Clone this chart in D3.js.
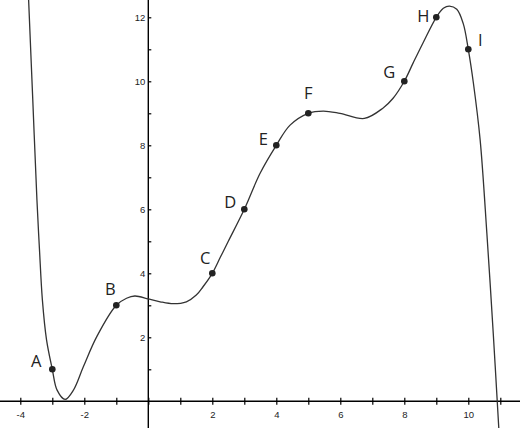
<!DOCTYPE html>
<html>
<head>
<meta charset="utf-8">
<script src="https://cdn.jsdelivr.net/npm/d3@7"></script>
<style>
  body { margin: 0; background: #fff; }
  svg { display: block; }
</style>
</head>
<body>
<div id="chart"></div>
<script>
// named points on the curve
const pointNames = ["A", "B", "C", "D", "E", "F", "G", "H", "I"];
const pointX = [-3, -1, 2, 3, 4, 5, 8, 9, 10];
const pointY = [1, 3, 4, 6, 8, 9, 10, 12, 11];

// curve
const curveX = [-3.756, -3.74, -3.61, -3.48, -3.4, -3.31, -3.18, -3, -2.85, -2.6, -2.34, -2.03, -1.61, -1,
  -0.68, -0.42, 0, 0.37, 0.78, 1.19, 1.5, 1.71, 2, 2.25, 2.5, 3, 3.49, 4, 4.43, 5, 5.47, 5.99, 6.75, 7.33, 7.65, 8,
  8.27, 8.58, 9, 9.22, 9.41, 9.64, 9.84, 10, 10.16, 10.37, 10.58, 10.78, 10.95, 10.98];
const curveY = [13, 12.54, 9.42, 6.29, 4.73, 3.17, 1.92, 1, 0.35, 0.06, 0.35, 1.08, 2.02, 3,
  3.22, 3.29, 3.2, 3.11, 3.05, 3.11, 3.32, 3.58, 4, 4.5, 5.0, 6, 7.12, 8, 8.63, 9, 9.07, 9, 8.84, 9.16, 9.47, 10,
  10.56, 11.19, 12, 12.28, 12.35, 12.25, 11.81, 11, 9.94, 8.17, 5.25, 2.12, -0.79, -1.3];

// ticks
const xTicks = [-4, -3, -2, -1, 0, 1, 2, 3, 4, 5, 6, 7, 8, 9, 10, 11];
const yTicks = [1, 2, 3, 4, 5, 6, 7, 8, 9, 10, 11, 12];
const xTickLabels = [-4, -2, 2, 4, 6, 8, 10];
const yTickLabels = [2, 4, 6, 8, 10, 12];

// label offsets from each point (px)
const labelDx = [-16, -6, -7, -14, -13, 0, -15, -13, 12];
const labelDy = [-8, -16, -15, -7, -6, -20, -9, -1, -9];

const width = 520, height = 428;

const svg = d3.select("#chart").append("svg")
  .attr("width", width)
  .attr("height", height);

const x = d3.scaleLinear().domain([-4, 10]).range([20.3, 468.3]);
const y = d3.scaleLinear().domain([0, 12]).range([401.3, 17.3]);

// x axis
const xAxis = svg.append("g")
  .attr("transform", `translate(0,${y(0)})`)
  .call(d3.axisBottom(x)
    .tickValues(xTicks)
    .tickSize(3.5)
    .tickPadding(6)
    .tickFormat(d => xTickLabels.includes(d) ? d : ""));
xAxis.select(".domain").remove();
xAxis.selectAll(".tick line").attr("y1", -3.5).attr("stroke", "#000").attr("stroke-width", 1.2);
xAxis.selectAll(".tick text")
  .style("font-family", "'Liberation Sans', Arial, sans-serif")
  .style("font-size", "9.5px")
  .attr("fill", "#222");
xAxis.append("line")
  .attr("x1", 0).attr("x2", width)
  .attr("stroke", "#000").attr("stroke-width", 1.4);

// y axis
const yAxis = svg.append("g")
  .attr("transform", `translate(${x(0)},0)`)
  .call(d3.axisLeft(y)
    .tickValues(yTicks)
    .tickSize(3)
    .tickPadding(0)
    .tickFormat(d => yTickLabels.includes(d) ? d : ""));
yAxis.select(".domain").remove();
yAxis.selectAll(".tick line").attr("x2", 3).attr("stroke", "#000").attr("stroke-width", 1.2);
yAxis.selectAll(".tick text")
  .style("font-family", "'Liberation Sans', Arial, sans-serif")
  .style("font-size", "9.5px")
  .attr("fill", "#222");
yAxis.append("line")
  .attr("y1", 0).attr("y2", height)
  .attr("stroke", "#000").attr("stroke-width", 1.4);

// curve
const curveData = curveX.map((v, i) => ({ x: v, y: curveY[i] }));
const line = d3.line()
  .x(d => x(d.x))
  .y(d => y(d.y))
  .curve(d3.curveCatmullRom.alpha(0.5));

svg.append("path")
  .datum(curveData)
  .attr("fill", "none")
  .attr("stroke", "#333")
  .attr("stroke-width", 1.3)
  .attr("d", line);

// points and labels
const points = pointNames.map((n, i) => ({ name: n, x: pointX[i], y: pointY[i], dx: labelDx[i], dy: labelDy[i] }));

svg.selectAll(".pt")
  .data(points)
  .join("circle")
  .attr("class", "pt")
  .attr("cx", d => x(d.x))
  .attr("cy", d => y(d.y))
  .attr("r", 3.3)
  .attr("fill", "#222");

svg.selectAll(".lbl")
  .data(points)
  .join("text")
  .attr("class", "lbl")
  .attr("x", d => x(d.x) + d.dx)
  .attr("y", d => y(d.y) + d.dy + 6)
  .attr("text-anchor", "middle")
  .style("font-family", "'Open Sans', 'Noto Sans', sans-serif")
  .style("font-size", "16.5px")
  .attr("fill", "#222")
  .text(d => d.name);
</script>
</body>
</html>
